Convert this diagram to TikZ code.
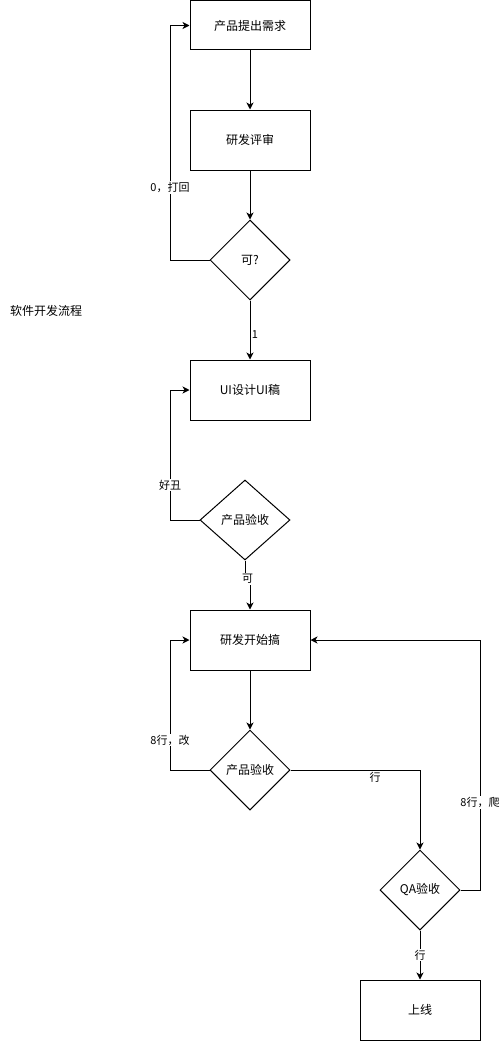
\documentclass[tikz,border=0pt]{standalone}
\usepackage{fontspec}
\setmainfont{Noto Sans CJK SC}
\usetikzlibrary{shapes.geometric,arrows.meta}
\tikzset{
  box/.style={draw, line width=1pt, minimum width=120pt, minimum height=60pt, inner sep=0pt, font=\fontsize{12}{14}\selectfont},
  dia/.style={draw, diamond, line width=1pt, minimum width=80pt, minimum height=80pt, inner sep=0pt, font=\fontsize{12}{14}\selectfont},
  arr/.style={line width=1pt, -{Stealth[length=7pt,width=7pt,inset=2pt]}},
  lab/.style={fill=white, inner sep=1pt, font=\fontsize{11}{13}\selectfont},
  labnf/.style={inner sep=1pt, font=\fontsize{11}{13}\selectfont}
}
\begin{document}
\begin{tikzpicture}[x=1pt,y=-1pt]
\useasboundingbox (0,0) rectangle (503,1041);
\node[box, minimum height=49pt] (b1) at (250,25.5) {产品提出需求};
\node[box] (b2) at (250,140) {研发评审};
\node[dia] (d1) at (250,260) {可?};
\node[box] (b3) at (250,390) {UI设计UI稿};
\node[dia, minimum width=90pt] (d2) at (245,520) {产品验收};
\node[box] (b4) at (250,640) {研发开始搞};
\node[dia] (d3) at (250,770) {产品验收};
\node[dia] (q) at (420,890) {QA验收};
\node[box] (b5) at (420,1010) {上线};
\node[font=\fontsize{12}{14}\selectfont] (title) at (46,311) {软件开发流程};

\coordinate (xl) at (170,0);
\coordinate (xr) at (480,0);

\draw[arr] (b1) -- (b2);
\draw[arr] (b2) -- (d1);
\draw[arr] (d1.west) -- (d1.west -| xl) -- node[lab, pos=0.31] {0，打回} (b1.west -| xl) -- (b1.west);
\draw[arr] (d1.south) -- (b3.north);
\node[labnf] (l1) at (255,335) {1};

\draw[arr] (d2.west) -- (d2.west -| xl) -- node[lab, pos=0.27] {好丑} (b3.west -| xl) -- (b3.west);
\draw[arr] (d2.south) -- ++(0,19) -- ++(5,0) -- (b4.north);
\node[lab] (l2) at (247.5,579) {可};

\draw[arr] (b4) -- (d3);
\draw[arr] (d3.west) -- (d3.west -| xl) -- node[lab, pos=0.23] {8行，改} (b4.west -| xl) -- (b4.west);
\draw[arr] (d3.east) -| (q.north);
\node[labnf] (l3) at (375,777) {行};
\draw[arr] (q.east) -- (q.east -| xr) -- node[lab, pos=0.35] {8行，爬} (b4.east -| xr) -- (b4.east);
\draw[arr] (q.south) -- node[lab, pos=0.5] {行} (b5.north);
\end{tikzpicture}
\end{document}
